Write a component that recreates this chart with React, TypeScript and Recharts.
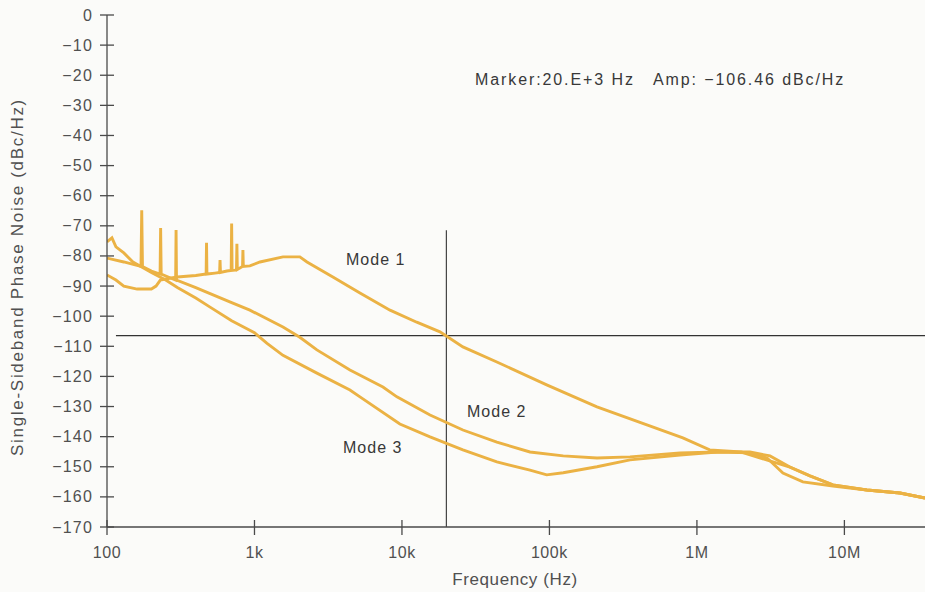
import React from 'react';
import { LineChart, Line, XAxis, YAxis, ReferenceLine } from 'recharts';

// axis ticks
const X_TICKS = [100, 1e3, 1e4, 1e5, 1e6, 1e7];
const X_TICK_LABELS = ['100', '1k', '10k', '100k', '1M', '10M'];
const Y_TICKS = [0, -10, -20, -30, -40, -50, -60, -70, -80, -90, -100, -110, -120, -130, -140, -150, -160, -170];

// Mode 1 (Hz / dBc/Hz)
const MODE1_FREQ = [
  100, 115, 130, 160, 200, 215, 230, 260, 300, 400, 470, 473, 476, 540, 580, 584, 588, 650, 695, 700, 705,
  738, 755, 760, 765, 830, 835, 840, 931, 1090, 1560, 2030, 2270, 3400, 5190, 8300, 12600, 18100, 25900,
  44000, 95800, 210000, 458000, 803000, 1220000, 2000000, 3000000, 4270000, 5840000, 8360000, 14200000,
  23800000, 35200000,
];
const MODE1_DB = [
  -86.3, -88, -90, -91, -91, -90, -88, -87.5, -87, -86.5, -86, -75.6, -86, -85.7, -85.5, -81.4, -85.5, -85,
  -84.8, -69.2, -84.8, -84.7, -84.5, -76, -84.5, -83.5, -78, -83.5, -83.3, -82, -80.3, -80.3, -82, -87,
  -92.3, -98, -102, -105.2, -110.2, -115.2, -122.8, -130.1, -136.1, -140.4, -144.4, -145.1, -147.8, -150.1,
  -153, -156, -157.7, -158.7, -160.4,
];

// Mode 2
const MODE2_FREQ = [
  100, 130, 170, 172, 174, 200, 229, 231, 233, 260, 292, 294, 296, 400, 500, 700, 931, 1560, 2030, 2650,
  4440, 7430, 9240, 15500, 25900, 44000, 73800, 124000, 210000, 352000, 768000, 1370000, 2290000, 2990000,
  3830000, 5230000, 8360000, 14200000, 23800000, 35200000,
];
const MODE2_DB = [
  -80.7, -82, -83.5, -64.8, -83.5, -85, -86, -70.7, -86, -87, -88, -71.4, -88, -90.5, -92.5, -95.5, -98,
  -103.6, -107, -111.2, -117.9, -123.5, -126.8, -132.8, -137.8, -141.8, -145.1, -146.4, -147.1, -146.7,
  -145.4, -145.1, -145.4, -147.1, -152.1, -155, -156.4, -157.7, -158.7, -160.4,
];

// Mode 3
const MODE3_FREQ = [
  100, 108, 115, 130, 150, 200, 250, 300, 400, 500, 700, 1000, 1217, 1560, 2650, 4440, 5190, 9680, 15500,
  25900, 44000, 73800, 95800, 124000, 210000, 352000, 768000, 1370000, 2290000, 3130000, 4270000, 5840000,
  8360000, 14200000, 23800000, 35200000,
];
const MODE3_DB = [
  -75.3, -74, -77, -79, -82, -85.5, -88, -90.5, -94, -97, -101.5, -105.5, -109, -113, -118.9, -124.5,
  -126.8, -135.8, -140.1, -144.4, -148.4, -151.1, -152.7, -152, -150, -147.7, -146.1, -145.1, -145.1,
  -146.4, -150.1, -153, -156, -157.7, -158.7, -160.4,
];

const MARKER_FREQ = 20000;
const MARKER_AMP = -106.46;
const MARKER_TOP = -71.5;
const H_LINE_START = 115;

const X_MIN = 100;
const X_MAX = 35.2e6;

const CURVE = '#ebb244';
const AXIS = '#4a4a4a';
const TEXT = '#505050';
const FONT = '"Liberation Sans", Arial, Helvetica, sans-serif';

const toPoints = (freq: number[], db: number[]) => freq.map((f, i) => ({ f, db: db[i] }));

const mode1 = toPoints(MODE1_FREQ, MODE1_DB);
const mode2 = toPoints(MODE2_FREQ, MODE2_DB);
const mode3 = toPoints(MODE3_FREQ, MODE3_DB);

function YTick(props: any) {
  const { x, y, payload } = props;
  const v = payload.value as number;
  return (
    <g>
      <line x1={x - 7} x2={x + 7} y1={y} y2={y} stroke={AXIS} strokeWidth={1.3} />
      <text x={x - 14} y={y} dy={5.5} textAnchor="end" fontSize={16} letterSpacing={1.2} fill={TEXT} fontFamily={FONT}>
        {v === 0 ? '0' : '\u2212' + Math.abs(v)}
      </text>
    </g>
  );
}

function XTick(props: any) {
  const { x, y, index } = props;
  return (
    <g>
      <line x1={x} x2={x} y1={y - 7} y2={y + 8} stroke={AXIS} strokeWidth={1.3} />
      <text x={x} y={y} dy={31} textAnchor="middle" fontSize={16} letterSpacing={0.6} fill={TEXT} fontFamily={FONT}>
        {X_TICK_LABELS[index]}
      </text>
    </g>
  );
}

const labelStyle: React.CSSProperties = {
  position: 'absolute',
  fontFamily: FONT,
  color: '#383838',
  fontSize: 16,
  lineHeight: '20px',
  whiteSpace: 'pre',
};

export default function App() {
  return (
    <div
      style={{
        position: 'absolute',
        left: 0,
        top: 0,
        width: 925,
        height: 592,
        overflow: 'hidden',
        background: '#fbfbf9',
        fontFamily: FONT,
      }}
    >
      <LineChart width={925} height={592} margin={{ top: 15, right: 0, left: 47, bottom: 35 }}>
        <XAxis
          dataKey="f"
          type="number"
          scale="log"
          domain={[X_MIN, X_MAX]}
          allowDataOverflow
          ticks={X_TICKS}
          interval={0}
          height={30}
          tickSize={0}
          tickMargin={0}
          tickLine={false}
          axisLine={{ stroke: AXIS, strokeWidth: 1.3 }}
          tick={<XTick />}
        />
        <YAxis
          dataKey="db"
          type="number"
          domain={[-170, 0]}
          ticks={Y_TICKS}
          interval={0}
          width={60}
          tickSize={0}
          tickMargin={0}
          tickLine={false}
          axisLine={{ stroke: AXIS, strokeWidth: 1.3 }}
          tick={<YTick />}
        />
        <ReferenceLine
          segment={[
            { x: H_LINE_START, y: MARKER_AMP },
            { x: X_MAX, y: MARKER_AMP },
          ]}
          stroke="#333"
          strokeWidth={1.1}
        />
        <ReferenceLine
          segment={[
            { x: MARKER_FREQ, y: MARKER_TOP },
            { x: MARKER_FREQ, y: -170 },
          ]}
          stroke="#333"
          strokeWidth={1.1}
        />
        <Line data={mode1} dataKey="db" type="linear" stroke={CURVE} strokeWidth={2.9} dot={false} isAnimationActive={false} />
        <Line data={mode2} dataKey="db" type="linear" stroke={CURVE} strokeWidth={2.9} dot={false} isAnimationActive={false} />
        <Line data={mode3} dataKey="db" type="linear" stroke={CURVE} strokeWidth={2.9} dot={false} isAnimationActive={false} />
      </LineChart>

      <div style={{ ...labelStyle, left: 475, top: 70, letterSpacing: 1.9 }}>
        {'Marker:20.E+3 Hz   Amp: \u2212106.46 dBc/Hz'}
      </div>
      <div style={{ ...labelStyle, left: 346, top: 250, letterSpacing: 1 }}>Mode 1</div>
      <div style={{ ...labelStyle, left: 467, top: 402, letterSpacing: 1 }}>Mode 2</div>
      <div style={{ ...labelStyle, left: 343, top: 438, letterSpacing: 1 }}>Mode 3</div>

      <div
        style={{
          ...labelStyle,
          color: TEXT,
          fontSize: 17,
          letterSpacing: 0.6,
          left: 415,
          top: 570,
          width: 200,
          textAlign: 'center',
        }}
      >
        Frequency (Hz)
      </div>
      <div
        style={{
          ...labelStyle,
          color: TEXT,
          fontSize: 17,
          letterSpacing: 1.7,
          left: 18 - 220,
          top: 277 - 10,
          width: 440,
          textAlign: 'center',
          transform: 'rotate(-90deg)',
        }}
      >
        Single-Sideband Phase Noise (dBc/Hz)
      </div>
    </div>
  );
}
